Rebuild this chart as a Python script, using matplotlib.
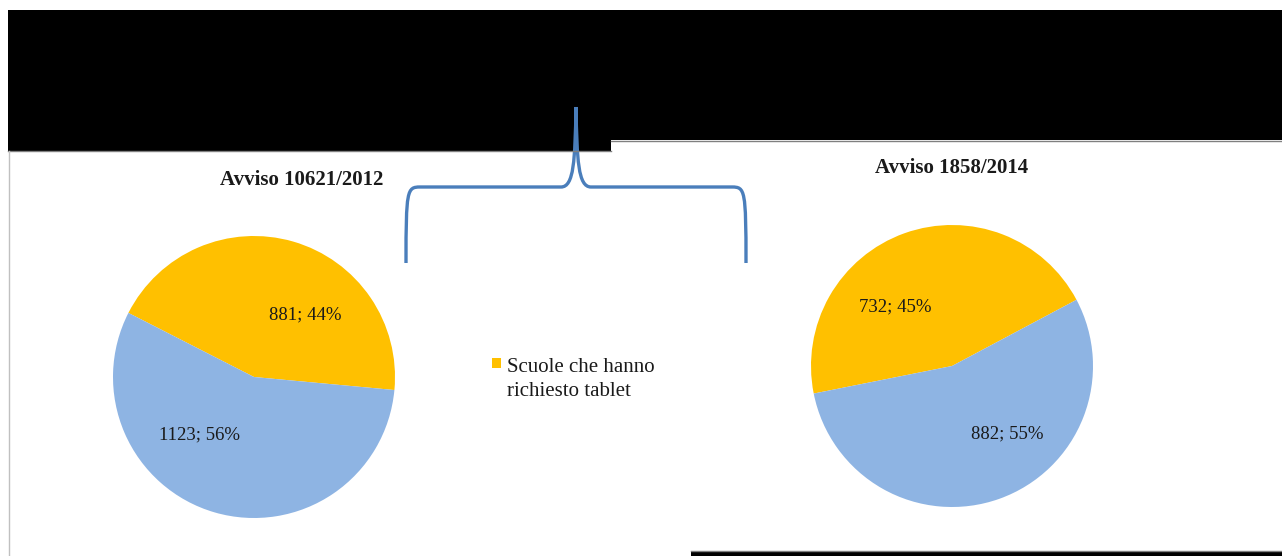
import matplotlib.pyplot as plt
from matplotlib.patches import Rectangle, PathPatch
from matplotlib.path import Path

# data
titles = ["Avviso 10621/2012", "Avviso 1858/2014"]
richiesto_tablet = [881, 732]
altre_scuole = [1123, 882]
legend_label = "Scuole che hanno\nrichiesto tablet"

YELLOW = "#FFC000"
BLUE = "#8EB4E3"
BRACE = "#4A7EBB"
TEXT = "#1a1a1a"

W, H = 1282, 556
plt.rcParams['font.family'] = ['Liberation Serif', 'DejaVu Serif']

fig = plt.figure(figsize=(W / 100, H / 100), dpi=100)
fig.patch.set_facecolor("white")

# background layer in pixel coordinates
bg = fig.add_axes([0, 0, 1, 1])
bg.set_xlim(0, W)
bg.set_ylim(H, 0)
bg.axis("off")

# black bands and frame lines
bg.add_patch(Rectangle((8, 10), 603, 141, color="black", lw=0))
bg.add_patch(Rectangle((611, 10), W - 611, 130, color="black", lw=0))
bg.plot([8, 611], [151, 151], color="#808080", lw=1)
bg.plot([611, W], [140.5, 140.5], color="#808080", lw=1)
bg.plot([8.5, 8.5], [151, H], color="#C0C0C0", lw=1)
bg.add_patch(Rectangle((691, 551), W - 691, 6, color="black", lw=0))
bg.plot([691, W], [551, 551], color="#808080", lw=1)

# curly brace
verts = [(406, 263), (406, 190), (407, 187), (420, 187),
         (561, 187), (574, 187), (575, 160), (576, 107),
         (577, 160), (578, 187), (591, 187), (732, 187),
         (745, 187), (746, 190), (746, 263)]
codes = [Path.MOVETO, Path.CURVE4, Path.CURVE4, Path.CURVE4,
         Path.LINETO, Path.CURVE4, Path.CURVE4, Path.CURVE4,
         Path.CURVE4, Path.CURVE4, Path.CURVE4, Path.LINETO,
         Path.CURVE4, Path.CURVE4, Path.CURVE4]
bg.add_patch(PathPatch(Path(verts, codes), fill=False, edgecolor=BRACE, lw=2.4))

# legend
bg.add_patch(Rectangle((492, 358), 9, 10, color=YELLOW, lw=0))
for k, line in enumerate(legend_label.split("\n")):
    bg.text(507, 367 + 24 * k, line, fontsize=15, va="center", ha="left", color=TEXT)

# titles
bg.text(302, 180, titles[0], fontsize=15, fontweight="bold", ha="center", va="center", color=TEXT)
bg.text(952, 168, titles[1], fontsize=15, fontweight="bold", ha="center", va="center", color=TEXT)

# pies
centers = [(254, 377), (952, 366)]
radius = 141
start_angles = [-5.3, 28]
label_pos = [[(0.36, 0.44), (-0.39, -0.41)],
             [(-0.40, 0.42), (0.39, -0.48)]]

for i in range(2):
    cx, cy = centers[i]
    ax = fig.add_axes([(cx - radius) / W, (H - cy - radius) / H,
                       2 * radius / W, 2 * radius / H])
    vals = [richiesto_tablet[i], altre_scuole[i]]
    ax.pie(vals, colors=[YELLOW, BLUE], startangle=start_angles[i],
           counterclock=True, radius=1, wedgeprops=dict(lw=0))
    ax.set_xlim(-1, 1)
    ax.set_ylim(-1, 1)
    total = sum(vals)
    for v, (lx, ly) in zip(vals, label_pos[i]):
        ax.text(lx, ly, f"{v}; {round(100 * v / total)}%", fontsize=13.5,
                ha="center", va="center", color=TEXT)

fig.savefig("out.png", dpi=100)
